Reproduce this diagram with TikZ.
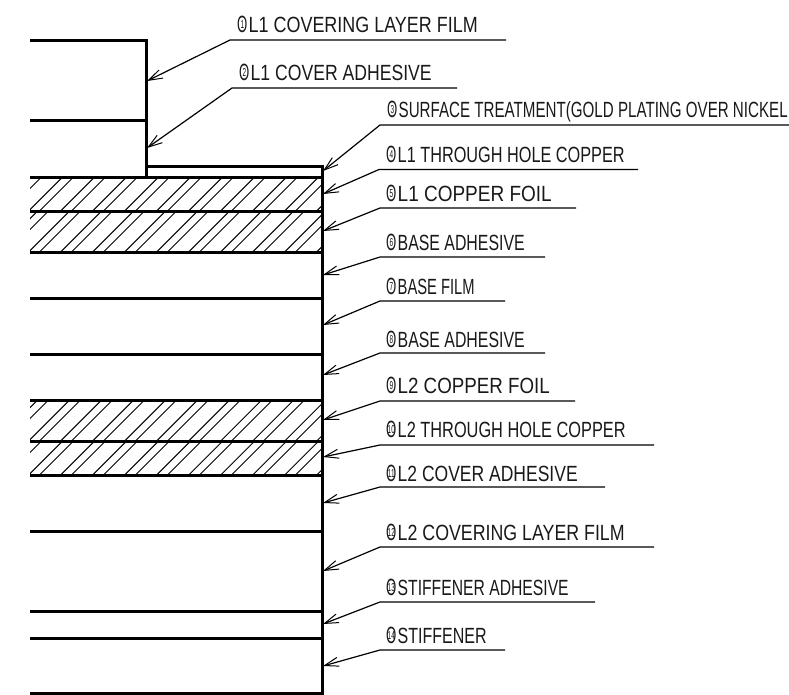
\documentclass[tikz,border=0pt]{standalone}
\usepackage{fontspec}
\usepackage{graphicx}
\usepackage{tikz}
\usetikzlibrary{arrows.meta}
\newfontfamily\cadfont[FakeStretch=0.78]{Liberation Sans}
\newfontfamily\numfont[FakeStretch=0.56]{Liberation Sans}
\newcommand{\hatchband}[2]{%
  \begin{scope}
    \clip (30,#1) rectangle (322,#2);
    \foreach \k in {-2,...,11} {
      \draw [hatchline] ({28.7+32*\k},#2) -- ++({#2-#1},{#1-#2});
      \draw [hatchline] ({39.5+32*\k},#2) -- ++({#2-#1},{#1-#2});
    }
  \end{scope}}
\newcommand{\circnum}[1]{\makebox[11.5pt][l]{\ooalign{\hfil\fontsize{23.5}{24}\numfont O\hfil\cr
  \hfil\raisebox{4pt}{\fontsize{11.5}{12}\numfont #1}\hfil\cr}}}
\newcommand{\callouttext}[3]{\circnum{#1}\resizebox{#2pt}{\height}{#3}}
\tikzset{
  layer/.style={line width=3pt},
  hatchline/.style={line width=1pt},
  leader/.style={line width=1.2pt, {Straight Barb[length=14pt,width=9pt,line width=1pt]}-},
  callout/.style={anchor=base west, inner sep=0pt, font=\fontsize{22}{23}\cadfont, text=black!90}
}
\begin{document}
\begin{tikzpicture}[x=1pt,y=-1pt]
        \useasboundingbox (0,0) rectangle (789,695);
        \hatchband{178}{211}
        \hatchband{211}{252}
        \hatchband{400}{441}
        \hatchband{441}{475}
        \draw [layer] (30,41) -- (146,41) -- (146,178);              %upper step
        \draw [layer] (30,121) -- (146,121);                         %
        \draw [layer] (146,167) -- (322,167) -- (322,693) -- (30,693);
        \draw [layer] (30,178) -- (322,178);                         %L1
        \draw [layer] (30,211) -- (322,211);                         %
        \draw [layer] (30,252) -- (322,252);                         %
        \draw [layer] (30,298) -- (322,298);                         %base
        \draw [layer] (30,354) -- (322,354);                         %
        \draw [layer] (30,400) -- (322,400);                         %L2
        \draw [layer] (30,441) -- (322,441);                         %
        \draw [layer] (30,475) -- (322,475);                         %
        \draw [layer] (30,531) -- (322,531);                         %
        \draw [layer] (30,611) -- (322,611);                         %stiffener
        \draw [layer] (30,638) -- (322,638);                         %

        \node [callout] (coverfilm) at (237,33) {\callouttext{1}{229}{L1 COVERING LAYER FILM}};
        \coordinate (coverfilm tip) at (147,81);
        \coordinate (coverfilm bend) at (230,40);
        \coordinate (coverfilm end) at (506,40);
        \draw [leader] (coverfilm tip) -- (coverfilm bend) -- (coverfilm end);

        \node [callout] (coveradh) at (239,81) {\callouttext{2}{181}{L1 COVER ADHESIVE}};
        \coordinate (coveradh tip) at (147,148);
        \coordinate (coveradh bend) at (232,88);
        \coordinate (coveradh end) at (457,88);
        \draw [leader] (coveradh tip) -- (coveradh bend) -- (coveradh end);

        \node [callout] (surface) at (387,118) {\callouttext{3}{389}{SURFACE TREATMENT(GOLD PLATING OVER NICKEL}};
        \coordinate (surface tip) at (323,171);
        \coordinate (surface bend) at (380,125);
        \coordinate (surface end) at (789,125);
        \draw [leader] (surface tip) -- (surface bend) -- (surface end);

        \node [callout] (holea) at (386,163) {\callouttext{4}{227}{L1 THROUGH HOLE COPPER}};
        \coordinate (holea tip) at (323,194);
        \coordinate (holea bend) at (379,169.5);
        \coordinate (holea end) at (638,169.5);
        \draw [leader] (holea tip) -- (holea bend) -- (holea end);

        \node [callout] (foila) at (386,201) {\callouttext{5}{154}{L1 COPPER FOIL}};
        \coordinate (foila tip) at (323,231);
        \coordinate (foila bend) at (380,208);
        \coordinate (foila end) at (576,208);
        \draw [leader] (foila tip) -- (foila bend) -- (foila end);

        \node [callout] (baseadha) at (386,250) {\callouttext{6}{127}{BASE ADHESIVE}};
        \coordinate (baseadha tip) at (323,275);
        \coordinate (baseadha bend) at (380,257);
        \coordinate (baseadha end) at (545,257);
        \draw [leader] (baseadha tip) -- (baseadha bend) -- (baseadha end);

        \node [callout] (basefilm) at (386,294) {\callouttext{7}{77}{BASE FILM}};
        \coordinate (basefilm tip) at (323,325);
        \coordinate (basefilm bend) at (380,301);
        \coordinate (basefilm end) at (505,301);
        \draw [leader] (basefilm tip) -- (basefilm bend) -- (basefilm end);

        \node [callout] (baseadhb) at (386,347) {\callouttext{8}{127}{BASE ADHESIVE}};
        \coordinate (baseadhb tip) at (323,375);
        \coordinate (baseadhb bend) at (380,353);
        \coordinate (baseadhb end) at (545,353);
        \draw [leader] (baseadhb tip) -- (baseadhb bend) -- (baseadhb end);

        \node [callout] (foilb) at (386,393) {\callouttext{9}{152}{L2 COPPER FOIL}};
        \coordinate (foilb tip) at (323,420);
        \coordinate (foilb bend) at (380,401);
        \coordinate (foilb end) at (575,401);
        \draw [leader] (foilb tip) -- (foilb bend) -- (foilb end);

        \node [callout] (holeb) at (386,437) {\callouttext{10}{228}{L2 THROUGH HOLE COPPER}};
        \coordinate (holeb tip) at (323,457);
        \coordinate (holeb bend) at (380,445);
        \coordinate (holeb end) at (654,445);
        \draw [leader] (holeb tip) -- (holeb bend) -- (holeb end);

        \node [callout] (coveradhb) at (386,481) {\callouttext{11}{180}{L2 COVER ADHESIVE}};
        \coordinate (coveradhb tip) at (323,503);
        \coordinate (coveradhb bend) at (380,487);
        \coordinate (coveradhb end) at (605,487);
        \draw [leader] (coveradhb tip) -- (coveradhb bend) -- (coveradhb end);

        \node [callout] (coverfilmb) at (386,540) {\callouttext{12}{227}{L2 COVERING LAYER FILM}};
        \coordinate (coverfilmb tip) at (323,571);
        \coordinate (coverfilmb bend) at (380,547);
        \coordinate (coverfilmb end) at (654,547);
        \draw [leader] (coverfilmb tip) -- (coverfilmb bend) -- (coverfilmb end);

        \node [callout] (stiffadh) at (386,595) {\callouttext{13}{171}{STIFFENER ADHESIVE}};
        \coordinate (stiffadh tip) at (323,624);
        \coordinate (stiffadh bend) at (380,602);
        \coordinate (stiffadh end) at (595,602);
        \draw [leader] (stiffadh tip) -- (stiffadh bend) -- (stiffadh end);

        \node [callout] (stiff) at (386,643) {\callouttext{14}{89}{STIFFENER}};
        \coordinate (stiff tip) at (323,666);
        \coordinate (stiff bend) at (380,650);
        \coordinate (stiff end) at (505,650);
        \draw [leader] (stiff tip) -- (stiff bend) -- (stiff end);
\end{tikzpicture}
\end{document}
